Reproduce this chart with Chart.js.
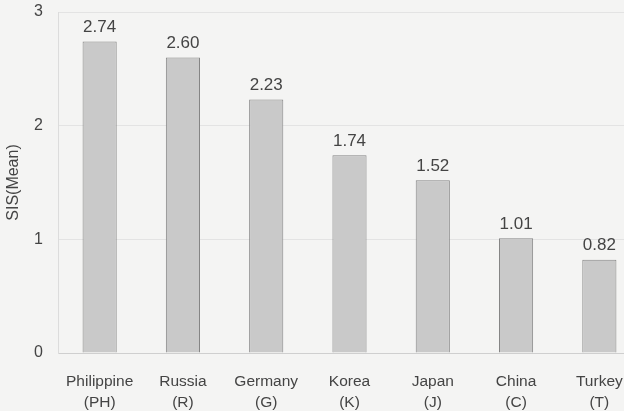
<!DOCTYPE html>
<html>
<head>
<meta charset="utf-8">
<script src="https://cdn.jsdelivr.net/npm/chart.js@4/dist/chart.umd.min.js"></script>
<style>
    html, body { margin: 0; padding: 0; background: #f4f4f3; overflow: hidden; }
    #wrap { width: 642px; height: 411px; position: relative; }
</style>
</head>
<body>
<div id="wrap"><canvas id="sisChart"></canvas></div>
<script>
const countries = ['Philippine', 'Russia', 'Germany', 'Korea', 'Japan', 'China', 'Turkey'];
const codes = ['(PH)', '(R)', '(G)', '(K)', '(J)', '(C)', '(T)'];
const sisMeans = [2.74, 2.60, 2.23, 1.74, 1.52, 1.01, 0.82];
const yTicks = [0, 1, 2, 3];

const fontFamily = '"Liberation Sans", Arial, sans-serif';

// value labels above each bar
const valueLabels = {
    id: 'valueLabels',
    afterDatasetsDraw(chart) {
        const ctx = chart.ctx;
        const meta = chart.getDatasetMeta(0);
        ctx.save();
        ctx.font = '17px ' + fontFamily;
        ctx.fillStyle = '#444';
        ctx.textAlign = 'center';
        ctx.textBaseline = 'middle';
        meta.data.forEach((bar, i) => {
            ctx.fillText(sisMeans[i].toFixed(2), bar.x, bar.y - 14);
        });
        ctx.restore();
    }
};

function init() {
    const ctx = document.getElementById('sisChart');
    new Chart(ctx, {
        type: 'bar',
        data: {
            labels: countries.map((c, i) => [c, codes[i]]),
            datasets: [{
                data: sisMeans,
                backgroundColor: '#c9c9c9',
                borderColor: '#858585',
                borderWidth: 1,
                barPercentage: 0.41,
                categoryPercentage: 1
            }]
        },
        options: {
            responsive: true,
            maintainAspectRatio: false,
            animation: false,
            layout: { padding: { top: 12, right: 1, left: 0, bottom: 0 } },
            plugins: {
                legend: { display: false },
                tooltip: { enabled: false }
            },
            scales: {
                x: {
                    grid: { display: false, drawTicks: false },
                    border: { color: '#cfcfcf' },
                    ticks: {
                        color: '#444',
                        padding: 18,
                        maxRotation: 0,
                        autoSkip: false,
                        font: { family: fontFamily, size: 15.5, lineHeight: 1.35 }
                    },
                    afterFit(scale) {
                        scale.height = 58;
                        scale.paddingLeft = 0;
                        scale.paddingRight = 0;
                    }
                },
                y: {
                    min: 0,
                    max: 3,
                    afterBuildTicks(scale) {
                        scale.ticks = yTicks.map(v => ({ value: v }));
                    },
                    grid: {
                        color: '#e3e3e3',
                        drawTicks: false
                    },
                    border: { color: '#dcdcdc' },
                    ticks: {
                        color: '#444',
                        padding: 15,
                        font: { family: fontFamily, size: 16 }
                    },
                    title: {
                        display: true,
                        text: 'SIS(Mean)',
                        color: '#444',
                        padding: { top: 4, bottom: 0 },
                        font: { family: fontFamily, size: 16 }
                    },
                    afterFit(scale) {
                        scale.width = 58;
                        scale.paddingTop = 0;
                        scale.paddingBottom = 0;
                    }
                }
            }
        },
        plugins: [valueLabels]
    });
}

document.addEventListener('DOMContentLoaded', init);
</script>
</body>
</html>
